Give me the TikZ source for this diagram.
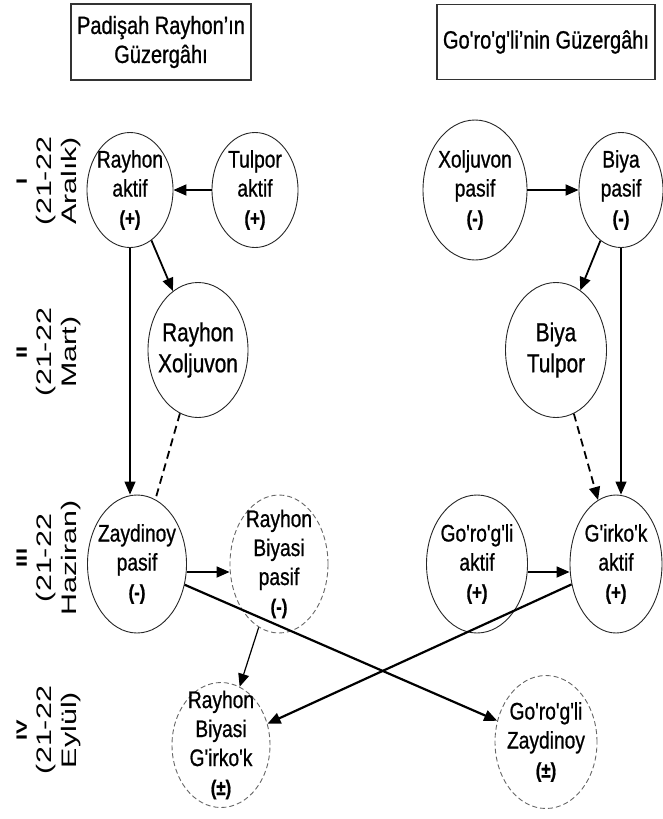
\documentclass[tikz,border=0pt]{standalone}
\usepackage{fontspec}
\setmainfont{Liberation Sans}[FakeStretch=0.8, FakeBold=0.8, Ligatures=TeXOff]
\newfontfamily\widefont{Liberation Sans}[FakeStretch=1.45, Ligatures=TeXOff]
\usetikzlibrary{shapes.geometric, arrows.meta}
\newcommand\sgn[1]{{\bfseries\fontsize{21}{28}\selectfont(#1)}}
\tikzset{ e/.style = { ellipse
                       , draw       = black!85
                       , line width = 0.9pt
                       , inner sep  = -18pt
                       , align      = center
                       , font       = \fontsize{24}{29}\selectfont
                       },
          d/.style = { e
                       , draw          = black!60
                       , dash pattern  = on 5pt off 3pt
                       },
          sz/.style 2 args = { minimum width = #1pt, minimum height = #2pt },
          hdr/.style = { rectangle
                         , draw       = black!80
                         , line width = 1.2pt
                         , align      = center
                         , font       = \fontsize{25}{29}\selectfont
                         },
          row/.style = { rotate = 90
                         , align = center
                         , font  = \widefont\fontsize{21}{25}\selectfont
                         },
          arr/.style = { -{Triangle[length=13pt, width=11pt]}, line width = 1.8pt },
          dsh/.style = { line width = 1.8pt, dash pattern = on 8pt off 5pt }
        }
\begin{document}
\begin{tikzpicture}[x=1pt, y=-1pt]
      \useasboundingbox (0,0) rectangle (662,819);
      % headers
      \node[hdr, minimum width=180pt, minimum height=76pt] (h1) at (161,42) {Padişah Rayhon’ın\\Güzergâhı};
      \node[hdr, minimum width=218pt, minimum height=75pt] (h2) at (546,42) {Go'ro'g'li’nin Güzergâhı};
      % seasons
      \node[row] (r1) at (49,181) {{\bfseries\fontsize{15}{15}\selectfont I}\\(21-22\\Aralık)};
      \node[row] (r2) at (49,352) {{\bfseries\fontsize{15}{15}\selectfont II}\\(21-22\\Mart)};
      \node[row] (r3) at (49,558) {{\bfseries\fontsize{15}{15}\selectfont III}\\(21-22\\Haziran)};
      \node[row] (r4) at (49,730) {{\bfseries\fontsize{15}{15}\selectfont IV}\\(21-22\\Eylül)};
      % left route
      \node[e, sz={86}{115}] (ra)  at (130,190) {Rayhon\\aktif\\\sgn{+}};
      \node[e, sz={86}{115}] (ta)  at (255,190) {Tulpor\\aktif\\\sgn{+}};
      \node[e, sz={100}{135}, font=\fontsize{26}{31}\selectfont] (rx) at (198,350) {Rayhon\\Xoljuvon};
      \node[e, sz={99}{138}] (za)  at (137,564) {Zaydinoy\\pasif\\\sgn{-}};
      \node[d, sz={98}{138}] (rbp) at (279,564) {Rayhon\\Biyasi\\pasif\\\sgn{-}};
      \node[d, sz={98}{125}] (rbg) at (221,745) {Rayhon\\Biyasi\\G'irko'k\\\sgn{±}};
      % right route
      \node[e, sz={104}{140}] (xp)  at (475,190) {Xoljuvon\\pasif\\\sgn{-}};
      \node[e, sz={84}{115}]  (bp)  at (621,190) {Biya\\pasif\\\sgn{-}};
      \node[e, sz={101}{135}, font=\fontsize{26}{31}\selectfont] (bt) at (556,350) {Biya\\Tulpor};
      \node[e, sz={92}{138}]  (ga)  at (616,564) {G'irko'k\\aktif\\\sgn{+}};
      \node[e, sz={101}{138}] (gla) at (477,564) {Go'ro'g'li\\aktif\\\sgn{+}};
      \node[d, sz={102}{133}] (gz)  at (546,742) {Go'ro'g'li\\Zaydinoy\\\sgn{±}};

      \draw[arr] (ta) -- (ra);
      \draw[arr] (ra) -- (rx);
      \draw[arr, line width=1.2pt] (ra.south) -- (ra.south |- za.north);
      \draw[dsh] (rx) -- (za);
      \draw[arr] ([yshift=-8pt]za.east) -- ([yshift=-8pt]rbp.west);
      \draw[arr, line width=1.2pt] (rbp) -- (rbg);
      \draw[arr] (xp) -- (bp);
      \draw[arr] (bp) -- (bt);
      \draw[arr, line width=1.2pt] (bp.south) -- (bp.south |- ga.north);
      \draw[arr, dsh] (bt) -- (ga);
      \draw[arr] ([yshift=-8pt]gla.east) -- ([yshift=-8pt]ga.west);
      \draw[arr, line width=2.2pt] (za) -- (gz);
      \draw[arr, line width=2.2pt] (ga) -- (rbg);
\end{tikzpicture}
\end{document}
